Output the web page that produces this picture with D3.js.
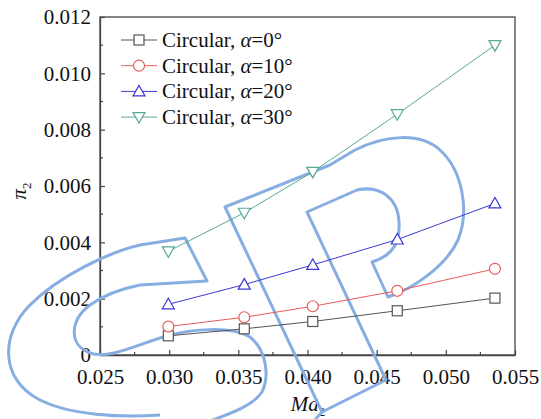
<!DOCTYPE html>
<html><head><meta charset="utf-8">
<script src="https://cdn.jsdelivr.net/npm/d3@7"></script>
<style>
body{margin:0;background:#fff}
svg{display:block;font-family:"Liberation Serif",serif}
svg text, svg tspan{font-family:"Liberation Serif",serif !important}
</style>
</head><body>
<script>
const xValues = [0.02994, 0.03543, 0.04038, 0.04649, 0.05355];
const seriesNames = ["Circular, α=0°", "Circular, α=10°", "Circular, α=20°", "Circular, α=30°"];
const alphaLabels = ["0°", "10°", "20°", "30°"];
const alpha0 = [0.00068, 0.00093, 0.00119, 0.00157, 0.00202];
const alpha10 = [0.00101, 0.00134, 0.00173, 0.00228, 0.00306];
const alpha20 = [0.00180, 0.00250, 0.00320, 0.00410, 0.00538];
const alpha30 = [0.00368, 0.00505, 0.00650, 0.00855, 0.01100];
const xTicks = [0.025, 0.030, 0.035, 0.040, 0.045, 0.050, 0.055];
const yTicks = [0, 0.002, 0.004, 0.006, 0.008, 0.010, 0.012];
const colors = ["#555555", "#e85a5a", "#3a3ad2", "#5aa898"];
const symbols = ["square", "circle", "triangle", "triangleDown"];

const W = 541, H = 419;
const m = {l: 100, r: 26, t: 17, b: 64};
const svg = d3.select("body").append("svg").attr("width", W).attr("height", H)
  .attr("font-family", "Liberation Serif");
const x = d3.scaleLinear().domain([0.025, 0.055]).range([m.l, W - m.r]);
const y = d3.scaleLinear().domain([0, 0.012]).range([H - m.b, m.t]);
const axisColor = "#444";
const FONT = '"Liberation Serif"';
const fs = "21px";
function styleText(sel, size) {
  return sel.attr("font-family", "Liberation Serif").style("font-family", FONT)
    .style("font-size", size || fs).style("fill", "#111");
}

// frame
svg.append("rect").attr("x", m.l).attr("y", m.t).attr("width", W - m.r - m.l).attr("height", H - m.b - m.t)
  .attr("fill", "none").attr("stroke", axisColor).attr("stroke-width", 1.3);

// x axis
const xa = svg.append("g").attr("transform", `translate(0,${H - m.b})`)
  .call(d3.axisBottom(x).tickValues(xTicks).tickFormat(d3.format(".3f")).tickSizeInner(-5).tickSizeOuter(0).tickPadding(14));
const minorX = d3.range(0.0275, 0.055, 0.005);
xa.selectAll(".minor").data(minorX).enter().append("line").attr("class", "minor")
  .attr("x1", d => x(d)).attr("x2", d => x(d)).attr("y1", 0).attr("y2", -3);
// y axis
const ya = svg.append("g").attr("transform", `translate(${m.l},0)`)
  .call(d3.axisLeft(y).tickValues(yTicks).tickFormat(d => d === 0 ? "0" : d3.format(".3f")(d)).tickSizeInner(-5).tickSizeOuter(0).tickPadding(9));
const minorY = d3.range(0.001, 0.012, 0.002);
ya.selectAll(".minor").data(minorY).enter().append("line").attr("class", "minor")
  .attr("y1", d => y(d)).attr("y2", d => y(d)).attr("x1", 0).attr("x2", 3);
[xa, ya].forEach(a => {
  a.attr("font-family", "Liberation Serif");
  a.select(".domain").attr("stroke", axisColor).attr("stroke-width", 1.3);
  a.selectAll("line").attr("stroke", axisColor).attr("stroke-width", 1.2);
  styleText(a.selectAll("text"));
});

// axis titles
const xt = styleText(svg.append("text").attr("x", 308).attr("y", 411).attr("text-anchor", "middle"));
xt.append("tspan").style("font-style", "italic").text("Ma");
xt.append("tspan").style("font-size", "13px").attr("dy", 5).text("2");
const yt = styleText(svg.append("text").attr("transform", "translate(26,191) rotate(-90)").attr("text-anchor", "middle"));
yt.append("tspan").style("font-style", "italic").text("π");
yt.append("tspan").style("font-size", "13px").attr("dy", 5).text("2");

// marker drawer
function marker(g, type, cx, cy, color) {
  if (type === "square") {
    g.append("rect").attr("x", cx - 5).attr("y", cy - 5).attr("width", 10).attr("height", 10)
      .attr("fill", "#fff").attr("stroke", color).attr("stroke-width", 1.2);
  } else if (type === "circle") {
    g.append("circle").attr("cx", cx).attr("cy", cy).attr("r", 5.5)
      .attr("fill", "#fff").attr("stroke", color).attr("stroke-width", 1.2);
  } else {
    const s = type === "triangle" ? 1 : -1;
    const p = [[cx - 6, cy + 4.5 * s], [cx + 6, cy + 4.5 * s], [cx, cy - 6 * s]];
    g.append("path").attr("d", "M" + p.join("L") + "Z")
      .attr("fill", "#fff").attr("stroke", color).attr("stroke-width", 1.2);
  }
}

// watermark (decorative outline)
const wm = svg.append("g").attr("fill", "none").attr("stroke", "#86aee0").attr("stroke-width", 3).attr("stroke-linejoin", "round");
wm.append("path").attr("d",
  "M200,425 C215,418 250,410 262,392 C270,375 266,350 250,337 C230,325 190,330 170,335 C140,343 110,360 90,353 C68,345 70,320 90,305 C108,292 130,287 140,285 L207,281 L185,238 L140,245 C110,252 60,275 30,305 C0,335 0,380 40,400 C70,415 120,418 160,415");
wm.append("path").attr("d",
  "M310,425 L322,412 L386,380 L307,212 L357,190 C380,185 398,198 399,222 C400,240 395,255 372,262 L388,297 C410,290 445,268 458,240 C470,210 462,170 440,150 C420,132 385,135 355,150 L330,165 L225,207 L322,412");

// series
const all = [alpha0, alpha10, alpha20, alpha30];
const line = d3.line().x((d, i) => x(xValues[i])).y(d => y(d));
all.forEach((vals, k) => {
  const g = svg.append("g");
  g.append("path").attr("d", line(vals)).attr("fill", "none").attr("stroke", colors[k]).attr("stroke-width", 1);
  vals.forEach((v, i) => marker(g, symbols[k], x(xValues[i]), y(v), colors[k]));
});

// legend
const lg = svg.append("g");
seriesNames.forEach((name, k) => {
  const cy = 40 + k * 25.7;
  lg.append("line").attr("x1", 121).attr("x2", 157).attr("y1", cy).attr("y2", cy).attr("stroke", colors[k]).attr("stroke-width", 1);
  marker(lg, symbols[k], 139, cy, colors[k]);
  const t = styleText(lg.append("text").attr("x", 162).attr("y", cy + 7));
  t.append("tspan").text("Circular, ");
  t.append("tspan").style("font-style", "italic").text("α");
  t.append("tspan").text("=" + alphaLabels[k]);
});
</script>
</body></html>
